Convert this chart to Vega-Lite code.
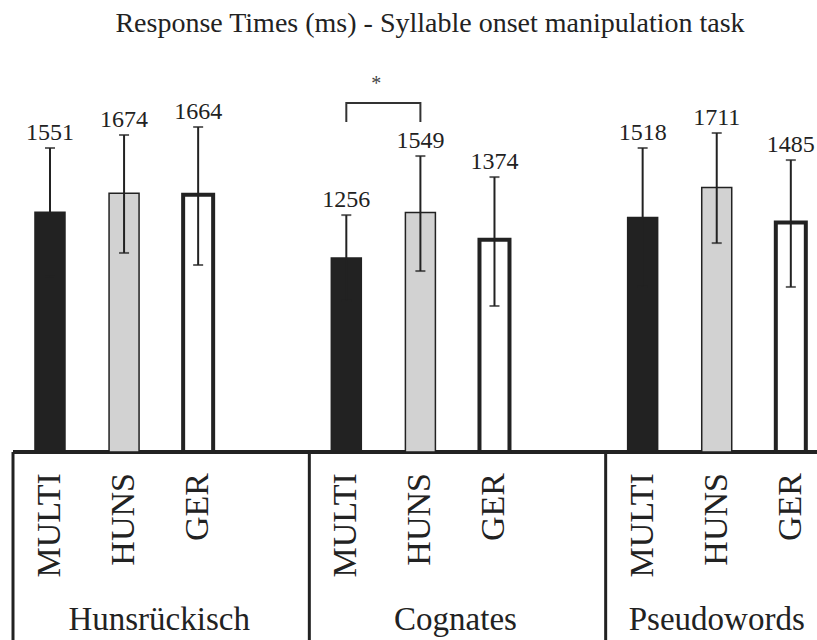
{
  "$schema": "https://vega.github.io/schema/vega-lite/v6.json",
  "autosize": {"type": "none"},
  "width": 804,
  "height": 590,
  "padding": {"left": 13, "top": 50, "right": 0, "bottom": 0},
  "background": "white",
  "title": {"text": "Response Times (ms) - Syllable onset manipulation task", "font": "Liberation Serif", "fontSize": 28, "fontWeight": "normal", "color": "#222222", "anchor": "middle", "dx": 15, "offset": -10, "baseline": "alphabetic"},
  "config": {"view": {"stroke": null}, "font": "Liberation Serif"},
  "datasets": {
    "rt": [
      {"group": "Hunsrückisch", "condition": "MULTI", "mean": 1551, "lower": 1135, "upper": 1967},
      {"group": "Hunsrückisch", "condition": "HUNS", "mean": 1674, "lower": 1288, "upper": 2051},
      {"group": "Hunsrückisch", "condition": "GER", "mean": 1664, "lower": 1210, "upper": 2103},
      {"group": "Cognates", "condition": "MULTI", "mean": 1256, "lower": 979, "upper": 1533},
      {"group": "Cognates", "condition": "HUNS", "mean": 1549, "lower": 1171, "upper": 1915},
      {"group": "Cognates", "condition": "GER", "mean": 1374, "lower": 945, "upper": 1779},
      {"group": "Pseudowords", "condition": "MULTI", "mean": 1518, "lower": 1069, "upper": 1967},
      {"group": "Pseudowords", "condition": "HUNS", "mean": 1711, "lower": 1352, "upper": 2064},
      {"group": "Pseudowords", "condition": "GER", "mean": 1485, "lower": 1068, "upper": 1889}
    ],
    "bracket": [
      {"group": "Cognates", "condition": "MULTI", "y": 2135, "seq": 1},
      {"group": "Cognates", "condition": "MULTI", "y": 2258, "seq": 2},
      {"group": "Cognates", "condition": "HUNS", "y": 2258, "seq": 3},
      {"group": "Cognates", "condition": "HUNS", "y": 2135, "seq": 4}
    ]
  },
  "data": {"name": "rt"},
  "layer": [
    {
      "mark": {"type": "rule", "strokeWidth": 3, "color": "#222222"},
      "encoding": {
        "y": {"datum": 0, "type": "quantitative", "scale": {"domain": [-1216, 2601], "nice": false, "zero": false}, "axis": null}
      }
    },
    {
      "transform": [{"filter": "datum.condition === 'HUNS'"}],
      "mark": {"type": "rule", "strokeWidth": 3, "color": "#222222"},
      "encoding": {
        "x": {"field": "group", "type": "nominal", "sort": ["Hunsrückisch", "Cognates", "Pseudowords"], "bandPosition": 0, "scale": {"range": [0, 889], "paddingInner": 0, "paddingOuter": 0}, "axis": null},
        "y": {"datum": 0, "type": "quantitative", "scale": {"domain": [-1216, 2601], "nice": false, "zero": false}, "axis": null},
        "y2": {"datum": -1216}
      }
    },
    {
      "mark": {"type": "bar", "stroke": "#222222"},
      "encoding": {
        "x": {"field": "group", "type": "nominal", "sort": ["Hunsrückisch", "Cognates", "Pseudowords"], "axis": null},
        "xOffset": {"field": "condition", "type": "nominal", "sort": ["MULTI", "HUNS", "GER"], "scale": {"paddingInner": 0.595, "paddingOuter": 0.7975, "align": 0.186}},
        "y": {"field": "mean", "type": "quantitative", "scale": {"domain": [-1216, 2601], "nice": false, "zero": false}, "axis": null},
        "y2": {"datum": 0},
        "fill": {"field": "condition", "type": "nominal", "scale": {"domain": ["MULTI", "HUNS", "GER"], "range": ["#222222", "#d2d2d2", "#ffffff"]}, "legend": null},
        "strokeWidth": {"condition": {"test": "datum.condition === 'GER'", "value": 4}, "value": 1.5}
      }
    },
    {
      "mark": {"type": "rule", "strokeWidth": 2, "color": "#222222"},
      "encoding": {
        "x": {"field": "group", "type": "nominal", "sort": ["Hunsrückisch", "Cognates", "Pseudowords"], "axis": null},
        "xOffset": {"field": "condition", "type": "nominal", "sort": ["MULTI", "HUNS", "GER"]},
        "y": {"field": "lower", "type": "quantitative", "scale": {"domain": [-1216, 2601], "nice": false, "zero": false}, "axis": null},
        "y2": {"field": "upper"}
      }
    },
    {
      "mark": {"type": "tick", "size": 10, "thickness": 2, "color": "#222222", "orient": "horizontal"},
      "encoding": {
        "x": {"field": "group", "type": "nominal", "sort": ["Hunsrückisch", "Cognates", "Pseudowords"], "axis": null},
        "xOffset": {"field": "condition", "type": "nominal", "sort": ["MULTI", "HUNS", "GER"]},
        "y": {"field": "upper", "type": "quantitative", "scale": {"domain": [-1216, 2601], "nice": false, "zero": false}, "axis": null}
      }
    },
    {
      "mark": {"type": "tick", "size": 10, "thickness": 2, "color": "#222222", "orient": "horizontal"},
      "encoding": {
        "x": {"field": "group", "type": "nominal", "sort": ["Hunsrückisch", "Cognates", "Pseudowords"], "axis": null},
        "xOffset": {"field": "condition", "type": "nominal", "sort": ["MULTI", "HUNS", "GER"]},
        "y": {"field": "lower", "type": "quantitative", "scale": {"domain": [-1216, 2601], "nice": false, "zero": false}, "axis": null}
      }
    },
    {
      "mark": {"type": "text", "fontSize": 24, "dy": -8, "baseline": "alphabetic", "color": "#222222", "font": "Liberation Serif"},
      "encoding": {
        "x": {"field": "group", "type": "nominal", "sort": ["Hunsrückisch", "Cognates", "Pseudowords"], "axis": null},
        "xOffset": {"field": "condition", "type": "nominal", "sort": ["MULTI", "HUNS", "GER"]},
        "y": {"field": "upper", "type": "quantitative", "scale": {"domain": [-1216, 2601], "nice": false, "zero": false}, "axis": null},
        "text": {"field": "mean", "type": "quantitative", "format": "d"}
      }
    },
    {
      "mark": {"type": "text", "fontSize": 34, "angle": 270, "align": "right", "baseline": "middle", "color": "#222222", "font": "Liberation Serif"},
      "encoding": {
        "x": {"field": "group", "type": "nominal", "sort": ["Hunsrückisch", "Cognates", "Pseudowords"], "axis": null},
        "xOffset": {"field": "condition", "type": "nominal", "sort": ["MULTI", "HUNS", "GER"]},
        "y": {"datum": -136, "type": "quantitative", "scale": {"domain": [-1216, 2601], "nice": false, "zero": false}, "axis": null},
        "text": {"field": "condition", "type": "nominal"}
      }
    },
    {
      "transform": [{"filter": "datum.condition === 'HUNS' && datum.group !== 'Pseudowords'"}],
      "mark": {"type": "text", "fontSize": 33, "baseline": "alphabetic", "dx": -2, "color": "#222222", "font": "Liberation Serif"},
      "encoding": {
        "x": {"field": "group", "type": "nominal", "sort": ["Hunsrückisch", "Cognates", "Pseudowords"], "axis": null},
        "y": {"datum": -1152, "type": "quantitative", "scale": {"domain": [-1216, 2601], "nice": false, "zero": false}, "axis": null},
        "text": {"field": "group", "type": "nominal"}
      }
    },
    {
      "transform": [{"filter": "datum.condition === 'HUNS' && datum.group === 'Pseudowords'"}],
      "mark": {"type": "text", "fontSize": 33, "baseline": "alphabetic", "color": "#222222", "font": "Liberation Serif"},
      "encoding": {
        "x": {"field": "group", "type": "nominal", "sort": ["Hunsrückisch", "Cognates", "Pseudowords"], "axis": null},
        "xOffset": {"field": "condition", "type": "nominal", "sort": ["MULTI", "HUNS", "GER"]},
        "y": {"datum": -1152, "type": "quantitative", "scale": {"domain": [-1216, 2601], "nice": false, "zero": false}, "axis": null},
        "text": {"field": "group", "type": "nominal"}
      }
    },
    {
      "data": {"name": "bracket"},
      "mark": {"type": "line", "strokeWidth": 2, "color": "#333333", "interpolate": "linear"},
      "encoding": {
        "x": {"field": "group", "type": "nominal", "sort": ["Hunsrückisch", "Cognates", "Pseudowords"], "axis": null},
        "xOffset": {"field": "condition", "type": "nominal", "sort": ["MULTI", "HUNS", "GER"]},
        "y": {"field": "y", "type": "quantitative", "scale": {"domain": [-1216, 2601], "nice": false, "zero": false}, "axis": null},
        "order": {"field": "seq", "type": "quantitative"}
      }
    },
    {
      "data": {"name": "bracket"},
      "transform": [{"filter": "datum.seq === 2"}],
      "mark": {"type": "text", "text": "*", "fontSize": 20, "dx": 30, "baseline": "alphabetic", "color": "#444444", "font": "Liberation Serif"},
      "encoding": {
        "x": {"field": "group", "type": "nominal", "sort": ["Hunsrückisch", "Cognates", "Pseudowords"], "axis": null},
        "xOffset": {"field": "condition", "type": "nominal", "sort": ["MULTI", "HUNS", "GER"]},
        "y": {"datum": 2342, "type": "quantitative", "scale": {"domain": [-1216, 2601], "nice": false, "zero": false}, "axis": null}
      }
    }
  ]
}
